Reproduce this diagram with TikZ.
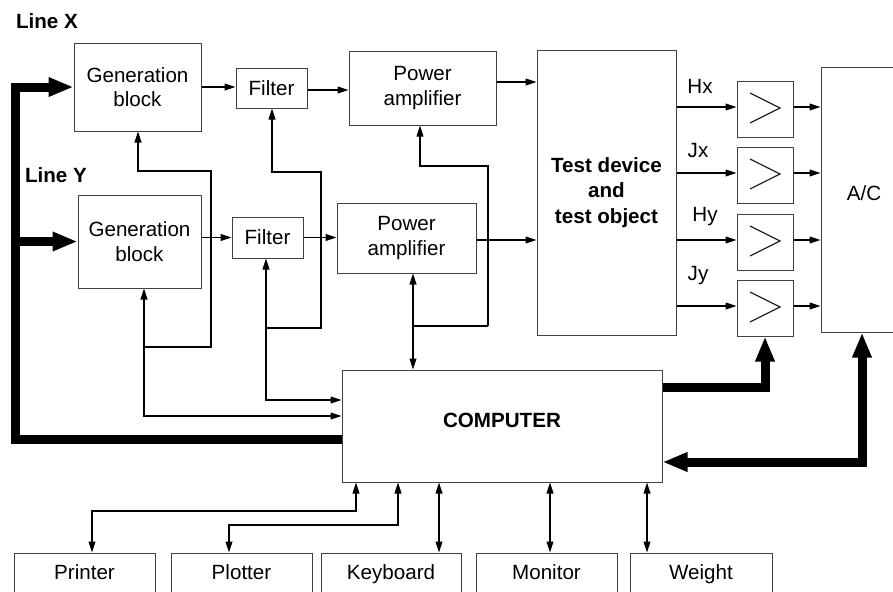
\documentclass[tikz,border=0pt]{standalone}
\usepackage{fontspec}
\setmainfont{Liberation Sans}
\usetikzlibrary{arrows.meta,calc}
\newcommand\normaltext{\fontsize{10.3}{12.2}\selectfont}
\tikzset{
  box/.style={draw=black!75, line width=0.5pt, inner sep=0pt, align=center, font=\normaltext},
  periph/.style={text height=7.6pt, text depth=2.1pt},
  conn/.style={line width=0.65pt},
  arr/.style={conn, -{Triangle[length=5.5pt,width=3.4pt]}},
  arrboth/.style={conn, {Triangle[length=5.5pt,width=3.4pt]}-{Triangle[length=5.5pt,width=3.4pt]}},
  heavy/.style={line width=4.5pt, line join=miter},
  heavyarr/.style={heavy, -{Triangle[length=12.5pt,width=9pt]}},
  heavyboth/.style={heavy, {Triangle[length=12.5pt,width=9pt]}-{Triangle[length=12.5pt,width=9pt]}},
  lbl/.style={font=\normaltext, inner sep=0pt},
  ampsym/.style={draw=black!85, line width=0.6pt},
}
% \blk[options]{name}{x1}{y1}{x2}{y2}{text}
\newcommand\blk[7][]{%
  \pgfmathsetmacro\bw{(#5-#3)/2}%
  \pgfmathsetmacro\bh{(#6-#4)/2}%
  \node[box, minimum width=\bw pt, minimum height=\bh pt, #1] (#2) at ({(#3+#5)/2},{(#4+#6)/2}) {#7};%
}
\begin{document}
\begin{tikzpicture}[x=0.5pt,y=-0.5pt]
\useasboundingbox (0,0) rectangle (893,591);
\clip (0,0) rectangle (893,591);
% labels
\node[lbl, font=\normaltext\bfseries] (lx) at (47,21) {Line X};
\node[lbl, font=\normaltext\bfseries] (ly) at (56,175) {Line Y};
% blocks
\blk{genX}{74}{43}{201}{131}{Generation\\block}
\blk{filterX}{236}{68}{307}{108}{Filter}
\blk{paX}{349}{51}{496}{125}{Power\\amplifier}
\blk{genY}{78}{195}{201}{288}{Generation\\block}
\blk{filterY}{232}{217}{303}{258}{Filter}
\blk{paY}{337}{203}{476}{273}{Power\\amplifier}
\blk[font=\fontsize{10.3}{12.6}\selectfont\bfseries]{test}{537}{50}{676}{335}{Test device\\and\\test object}
\blk{ampA}{737}{81}{793}{137}{}
\blk{ampB}{737}{147}{793}{203}{}
\blk{ampC}{737}{214}{793}{270}{}
\blk{ampD}{737}{280}{793}{336}{}
\blk[text height=7.4pt, text depth=6pt]{AC}{821}{67}{907}{332}{A/C}
\blk[font=\normaltext\bfseries, text height=7.4pt, text depth=6pt]{comp}{342}{370}{662}{482}{COMPUTER}
\blk[periph]{printer}{14}{553}{155}{595}{Printer}
\blk[periph]{plotter}{171}{553}{312}{595}{Plotter}
\blk[periph]{keyboard}{321}{553}{461}{595}{Keyboard}
\blk[periph]{monitor}{476}{553}{617}{595}{Monitor}
\blk[periph]{weight}{630}{553}{772}{595}{Weight}
% amplifier symbols
\foreach \a in {ampA,ampB,ampC,ampD}{
  \draw[ampsym] ($(\a.center)+(-15,-16)$) -- ($(\a.center)+(15,-1)$) -- ($(\a.center)+(-15,14)$);
}
% signal labels
\node[lbl] (hx) at (700,86) {Hx};
\node[lbl] (jx) at (698,151) {Jx};
\node[lbl] (hy) at (705,217) {Hy};
\node[lbl] (jy) at (698,276) {Jy};
% forward chain X
\draw[arr] (genX.east) -- (genX.east -| filterX.west);
\draw[arr] ($(filterX.east)+(0,2)$) -- ($(filterX.east -| paX.west)+(0,2)$);
\draw[arr] ($(paX.east)+(0,-6)$) -- ($(paX.east -| test.west)+(0,-6)$);
% forward chain Y
\draw[arr] (filterY.west -| genY.east) -- (filterY.west);
\draw[arr] (filterY.east) -- (filterY.east -| paY.west);
\draw[arr] ($(paY.east)+(0,2)$) -- ($(paY.east -| test.west)+(0,2)$);
% test -> amplifiers -> A/C
\foreach \a in {ampA,ampB,ampC,ampD}{
  \draw[arr] ($(test.east |- \a.west)+(0,-2)$) -- ($(\a.west)+(0,-2)$);
  \draw[arr] ($(\a.east)+(0,-2)$) -- ($(\a.east -| AC.west)+(0,-2)$);
}
% generation block feedback
\coordinate (b1) at (144,416);
\coordinate (b2) at (211,347);
\coordinate (b3) at (138,171);
\draw[arrboth] (b1 |- genY.south) -- (b1) -- (b1 -| comp.west);
\draw[arr] (b1 |- b2) -- (b2) -- (b2 |- b3) -- (b3) -- (b3 |- genX.south);
% filter feedback
\coordinate (c1) at (266,400);
\coordinate (c2) at (321,328);
\coordinate (c3) at (272,172);
\draw[arrboth] (c1 |- filterY.south) -- (c1) -- (c1 -| comp.west);
\draw[arr] (c1 |- c2) -- (c2) -- (c2 |- c3) -- (c3) -- (c3 |- filterX.south);
% power amplifier feedback
\coordinate (d1) at (413,326);
\coordinate (d2) at (488,326);
\coordinate (d3) at (420,166);
\draw[arrboth] (d1 |- paY.south) -- (d1 |- comp.north);
\draw[conn] (d1) -- (d2);
\draw[arr] (d2) -- (d2 |- d3) -- (d3) -- (d3 |- paX.south);
% heavy lines
\coordinate (t1) at (15,439);
\draw[heavyarr] (comp.west |- t1) -- (t1) -- (t1 |- genX.west) -- (genX.west);
\draw[heavyarr] (t1 |- genY.west) -- (genY.west);
\coordinate (t2) at (765,387);
\draw[heavyarr] (comp.east |- t2) -- (t2) -- (t2 |- ampD.south);
\coordinate (t3) at (862,462);
\draw[heavyboth] (t3 |- AC.south) -- (t3) -- (t3 -| comp.east);
% peripherals
\coordinate (p1) at (356,511);
\coordinate (p2) at (92,511);
\draw[arrboth] (p1 |- comp.south) -- (p1) -- (p2) -- (p2 |- printer.north);
\coordinate (q1) at (398,525);
\coordinate (q2) at (229,525);
\draw[arrboth] (q1 |- comp.south) -- (q1) -- (q2) -- (q2 |- plotter.north);
\coordinate (k1) at (439,520);
\draw[arrboth] (k1 |- comp.south) -- (k1 |- keyboard.north);
\coordinate (m1) at (550,520);
\draw[arrboth] (m1 |- comp.south) -- (m1 |- monitor.north);
\coordinate (w1) at (647,520);
\draw[arrboth] (w1 |- comp.south) -- (w1 |- weight.north);
\end{tikzpicture}
\end{document}
